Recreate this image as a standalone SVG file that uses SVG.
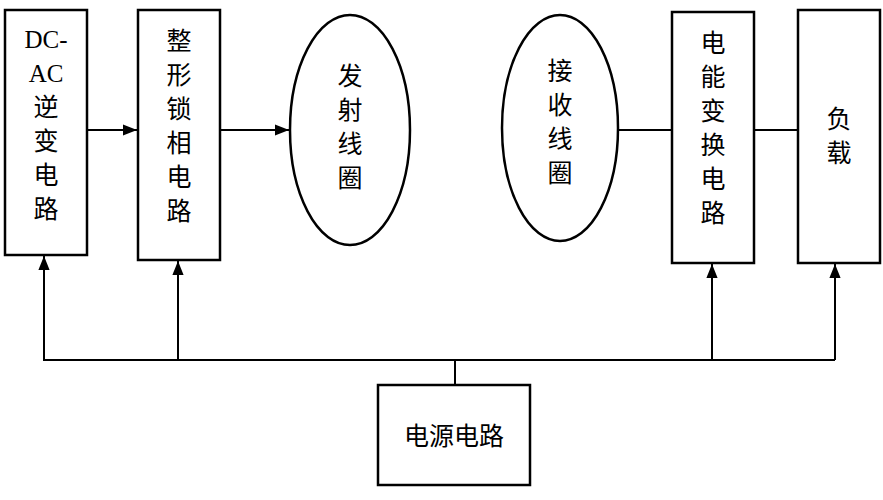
<svg xmlns="http://www.w3.org/2000/svg" width="883" height="500" viewBox="0 0 883 500">
<style>
.b{fill:#fff;stroke:#000;stroke-width:2.5}
.t{font-family:"Liberation Serif","Noto Sans CJK SC",serif;font-size:25px;fill:#000;text-anchor:middle}
.c{fill:none;stroke:#000;stroke-width:2}
</style>
<defs><marker id="a" viewBox="0 0 10 10" refX="10" refY="5" markerWidth="8" markerHeight="8" orient="auto" markerUnits="userSpaceOnUse"><path d="M0,0L10,5L0,10z" fill="#000"/></marker>
<marker id="m" viewBox="0 0 10 10" refX="10" refY="5" markerWidth="14" markerHeight="14" orient="auto" markerUnits="userSpaceOnUse"><path d="M0,1L10,5L0,9z" fill="#000"/></marker></defs>
<rect width="883" height="500" fill="#fff"/>
<g id="dcac"><rect class="b" x="5" y="10" width="82" height="245"/>
<text class="t" x="46" y="48">DC-</text><text class="t" x="46" y="82">AC</text><text class="t" x="46" y="116">逆</text><text class="t" x="46" y="150">变</text><text class="t" x="46" y="184">电</text><text class="t" x="46" y="218">路</text></g>
<g id="zx"><rect class="b" x="138" y="10" width="82" height="250"/>
<text class="t" x="179" y="50">整</text><text class="t" x="179" y="84">形</text><text class="t" x="179" y="118">锁</text><text class="t" x="179" y="152">相</text><text class="t" x="179" y="186">电</text><text class="t" x="179" y="220">路</text></g>
<g id="fs"><ellipse class="b" cx="350" cy="130" rx="60" ry="115"/>
<text class="t" x="350" y="85">发</text><text class="t" x="350" y="119">射</text><text class="t" x="350" y="153">线</text><text class="t" x="350" y="187">圈</text></g>
<g id="js"><ellipse class="b" cx="560" cy="128" rx="58" ry="113"/>
<text class="t" x="560" y="80">接</text><text class="t" x="560" y="114">收</text><text class="t" x="560" y="148">线</text><text class="t" x="560" y="182">圈</text></g>
<g id="dn"><rect class="b" x="672" y="12" width="82" height="251"/>
<text class="t" x="713" y="52">电</text><text class="t" x="713" y="86">能</text><text class="t" x="713" y="120">变</text><text class="t" x="713" y="154">换</text><text class="t" x="713" y="188">电</text><text class="t" x="713" y="222">路</text></g>
<g id="fz"><rect class="b" x="798" y="10" width="82" height="253"/>
<text class="t" x="839" y="128">负</text><text class="t" x="839" y="162">载</text></g>
<g id="dy"><rect class="b" x="378" y="385" width="152" height="100"/>
<text class="t" x="454" y="445">电源电路</text></g>
<g id="conn">
<line class="c" x1="87" y1="130" x2="137" y2="130" marker-end="url(#m)"/>
<line class="c" x1="220" y1="130" x2="289" y2="130" marker-end="url(#m)"/>
<line class="c" x1="618" y1="130" x2="672" y2="130"/>
<line class="c" x1="754" y1="130" x2="798" y2="130"/>
<polyline class="c" points="44,256 44,360 835,360"/>
<line class="c" x1="44" y1="360" x2="44" y2="256" marker-end="url(#m)"/>
<line class="c" x1="178" y1="360" x2="178" y2="261" marker-end="url(#m)"/>
<line class="c" x1="712" y1="360" x2="712" y2="264" marker-end="url(#m)"/>
<line class="c" x1="835" y1="360" x2="835" y2="264" marker-end="url(#m)"/>
<line class="c" x1="455" y1="360" x2="455" y2="385"/>
</g>
</svg>
